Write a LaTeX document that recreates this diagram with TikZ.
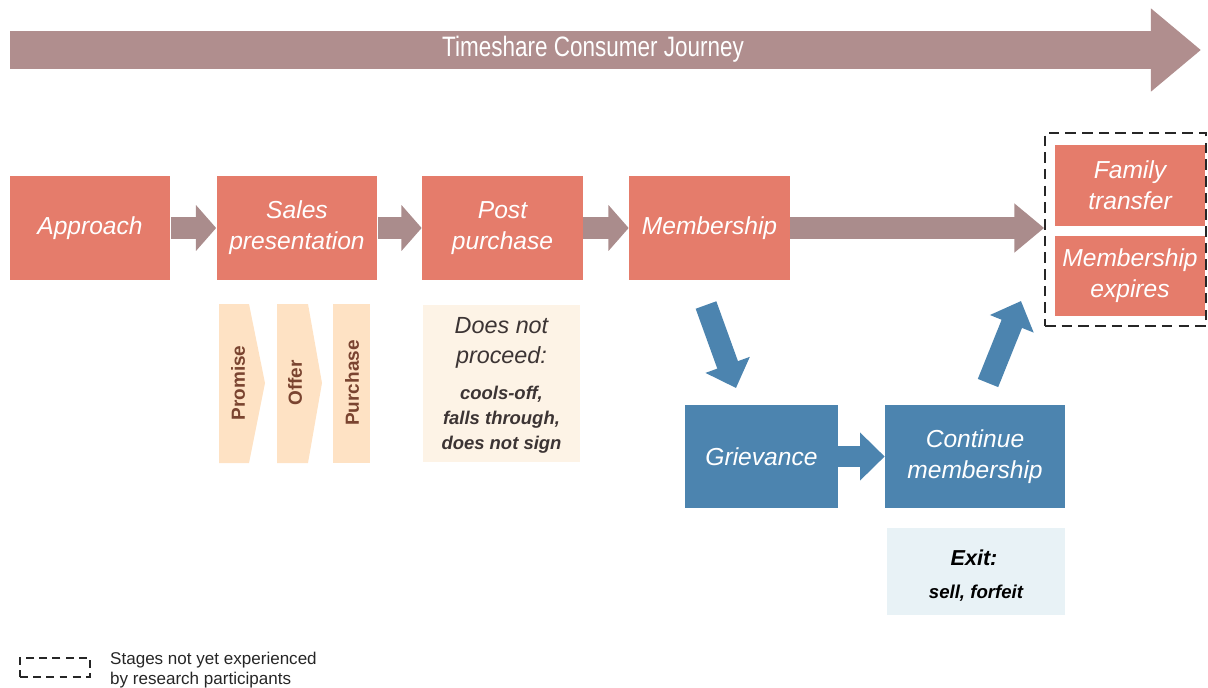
\documentclass[tikz,border=0pt]{standalone}
\usepackage{fontspec}
\setmainfont{Liberation Sans}
\newfontfamily\narrowsans[FakeStretch=0.8]{Liberation Sans}
\usetikzlibrary{arrows.meta}
\definecolor{salmon}{RGB}{229,124,107}
\definecolor{steel}{RGB}{76,132,175}
\definecolor{arrowgray}{RGB}{170,140,140}
\definecolor{topgray}{RGB}{176,142,142}
\definecolor{peach}{RGB}{254,226,196}
\definecolor{paleyellow}{RGB}{253,243,230}
\definecolor{paleblue}{RGB}{232,242,246}
\definecolor{brownt}{RGB}{122,68,48}
\definecolor{darkt}{RGB}{60,52,52}
\begin{document}
\begin{tikzpicture}[x=0.02cm,y=-0.02cm,
  box/.style={rectangle, inner sep=0pt, minimum width=3.22cm, minimum height=2.08cm, align=center, text=white, font=\fontsize{14}{17.5}\selectfont\itshape},
  redbox/.style={box, fill=salmon},
  bluebox/.style={box, fill=steel, minimum height=2.06cm},
  grayarrow/.style={draw=arrowgray, line width=13pt, -{Triangle[length=11.5pt,width=25.5pt]}},
  bluearrow/.style={draw=steel, line width=12.5pt, -{Triangle[length=14pt,width=26pt]}},
  chevtext/.style={rotate=90, text=brownt, font=\fontsize{10.8}{12}\selectfont\bfseries},
  notebox/.style={rectangle, inner sep=0pt, align=center},
  dashedge/.style={draw=black!85, line width=1pt, dash pattern=on 6pt off 3.5pt}
]
\useasboundingbox (0,0) rectangle (1208,687);

% top journey arrow
\coordinate (jstart) at (10,50);
\coordinate (jend) at (1201,50);
\draw[draw=topgray, line width=21.5pt, -{Triangle[length=28.5pt,width=45.5pt]}] (jstart) -- (jend);
\node[text=white, font=\narrowsans\fontsize{16}{18}\selectfont] (title) at (593,49) {Timeshare Consumer Journey};

% main stages
\node[redbox] (appr) at (90,228) {Approach};
\node[redbox] (sales) at (297,228) {Sales\\presentation};
\node[redbox] (post) at (502.5,228) {Post\\purchase};
\node[redbox] (memb) at (709.5,228) {Membership};

% dashed group
\node[rectangle, dashedge, minimum width=3.22cm, minimum height=3.86cm, inner sep=0pt] (group) at (1125.5,229.5) {};
\node[redbox, minimum width=3.0cm, minimum height=1.62cm] (family) at (1130,185.5) {Family\\transfer};
\node[redbox, minimum width=3.0cm, minimum height=1.62cm] (expires) at (1130,276) {Membership\\expires};

\draw[grayarrow] (appr.east) -- (sales.west);
\draw[grayarrow] (sales.east) -- (post.west);
\draw[grayarrow] (post.east) -- (memb.west);
\draw[draw=arrowgray, line width=13pt, -{Triangle[length=17pt,width=27pt]}] (memb.east) -- (memb.east -| group.west);

% sales presentation sub-steps
\fill[peach] (219,304) -- (249,304) -- (265,383) -- (249,463) -- (219,463) -- cycle;
\fill[peach] (277,304) -- (308,304) -- (322,383) -- (308,463) -- (277,463) -- cycle;
\fill[peach] (333,304) rectangle (370,463);
\node[chevtext] (promise) at (238,383) {Promise};
\node[chevtext] (offer) at (295,383) {Offer};
\node[chevtext] (purchase) at (352,383) {Purchase};

% does not proceed
\node[notebox, fill=paleyellow, minimum width=3.14cm, minimum height=3.14cm] (dnp) at (501.5,383.5) {};
\node[text=darkt, align=center, font=\fontsize{13.3}{17}\selectfont\itshape] (dnpt) at (501.5,343) {Does not\\proceed:};
\node[text=darkt, align=center, font=\fontsize{10.5}{14.2}\selectfont\bfseries\itshape] (dnps) at (501.5,420) {cools-off,\\falls through,\\does not sign};

% grievance path
\node[bluebox, minimum width=3.06cm] (griev) at (761.5,456.5) {Grievance};
\node[bluebox, minimum width=3.6cm] (cont) at (975,456.5) {Continue\\membership};
\draw[bluearrow, -{Triangle[length=14pt,width=26.5pt]}] (griev.east) -- (cont.west);

\coordinate (dtail) at (706,305);
\coordinate (dtip) at (736,388);
\draw[bluearrow] (dtail) -- (dtip);
\coordinate (utail) at (988,383);
\coordinate (utip) at (1021,301);
\draw[bluearrow] (utail) -- (utip);

% exit
\node[notebox, fill=paleblue, minimum width=3.56cm, minimum height=1.74cm] (exit) at (976,571.5) {};
\node[text=black, font=\fontsize{12.3}{14}\selectfont\bfseries\itshape] (exitt) at (974,558) {Exit:};
\node[text=black, font=\fontsize{10.6}{12}\selectfont\bfseries\itshape] (exits) at (976,593) {sell, forfeit};

% legend
\node[rectangle, dashedge, line width=0.8pt, dash pattern=on 4.5pt off 3pt, minimum width=1.4cm, minimum height=0.38cm, inner sep=0pt] (legbox) at (55,667.5) {};
\node[anchor=west, align=left, text=black!85, font=\fontsize{9.7}{11.3}\selectfont] (legtext) at (104,670) {Stages not yet experienced\\by research participants};
\end{tikzpicture}
\end{document}
